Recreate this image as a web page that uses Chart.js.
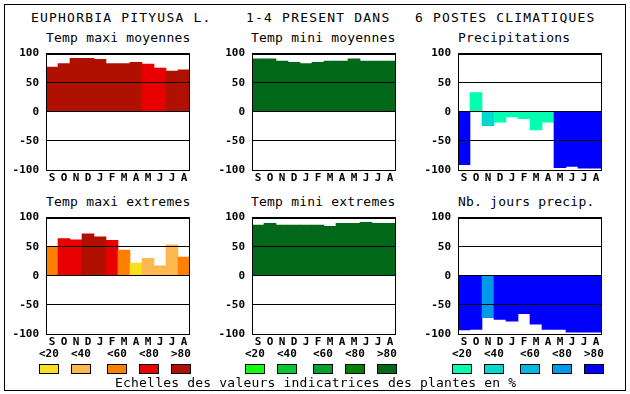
<!DOCTYPE html>
<html>
<head>
<meta charset="utf-8">
<script src="https://cdn.jsdelivr.net/npm/chart.js@4.4.1/dist/chart.umd.min.js"></script>
<style>
body{margin:0;background:#fff;width:630px;height:394px;position:relative;overflow:hidden;font-family:"DejaVu Sans Mono",monospace;color:#000}
#cadre{position:absolute;left:4px;top:4px;width:620px;height:385px;border:1px solid #000}
.t{position:absolute;white-space:pre;line-height:1}
.titre{font-size:13px;letter-spacing:1.2px;top:11px}
.sous{font-size:13px;letter-spacing:0.2px}
.leg{font-size:11px;font-weight:bold;top:348px}
.box{position:absolute;top:364px;width:18px;height:8px;border:1px solid #000}
canvas{position:absolute}
</style>
</head>
<body>
<div id="cadre"></div>
<div class="t titre" style="left:31px">EUPHORBIA PITYUSA L.</div>
<div class="t titre" style="left:246px">1-4 PRESENT DANS</div>
<div class="t titre" style="left:415px">6 POSTES CLIMATIQUES</div>

<div class="t sous" style="left:46px;top:31px">Temp maxi moyennes</div>
<div class="t sous" style="left:251px;top:31px">Temp mini moyennes</div>
<div class="t sous" style="left:458px;top:31px">Precipitations</div>
<div class="t sous" style="left:46px;top:195px">Temp maxi extremes</div>
<div class="t sous" style="left:251px;top:195px">Temp mini extremes</div>
<div class="t sous" style="left:458px;top:195px">Nb. jours precip.</div>

<canvas id="c1" width="200" height="150" style="left:0px;top:40px"></canvas>
<canvas id="c2" width="200" height="150" style="left:206px;top:40px"></canvas>
<canvas id="c3" width="200" height="150" style="left:412px;top:40px"></canvas>
<canvas id="c4" width="200" height="150" style="left:0px;top:204px"></canvas>
<canvas id="c5" width="200" height="150" style="left:206px;top:204px"></canvas>
<canvas id="c6" width="200" height="150" style="left:412px;top:204px"></canvas>

<div id="legende"></div>
<div class="t sous" style="left:115px;top:376px">Echelles des valeurs indicatrices des plantes en %</div>

<script>
var mois = ['S','O','N','D','J','F','M','A','M','J','J','A'];
var classes = ['<20','<40','<60','<80','>80'];

var rouges = ['#F8E020','#FFB850','#FF8000','#E80000','#B01000'];
var verts  = ['#10FF10','#00C830','#00A030','#008000','#006818'];
var bleus  = ['#00FFB0','#00D8D0','#00B8E0','#0098E8','#0000FF'];

var tmaxMoy = [77,83,92,92,90,83,83,85,82,75,70,72];
var tmaxMoyCl = [4,4,4,4,4,4,4,4,3,3,4,4];
var tminMoy = [91,91,87,85,83,85,87,87,91,87,87,87];
var tminMoyCl = [4,4,4,4,4,4,4,4,4,4,4,4];
var precip = [-91,33,-24,-18,-9,-12,-31,-18,-96,-94,-97,-97];
var precipCl = [4,0,1,0,0,0,0,0,4,4,4,4];
var tmaxExt = [49,64,62,72,67,61,44,22,30,17,53,32];
var tmaxExtCl = [2,3,3,4,4,3,2,0,1,1,1,2];
var tminExt = [87,90,87,87,87,87,85,90,90,92,90,90];
var tminExtCl = [4,4,4,4,4,4,4,4,4,4,4,4];
var nbJours = [-93,-92,-72,-75,-78,-65,-83,-92,-92,-97,-97,-97];
var nbJoursCl = [4,4,3,4,4,4,4,4,4,4,4,4];

var police = {family:'"DejaVu Sans Mono", monospace', size:11, weight:'bold'};

// cadre noir autour de la zone de trace
var cadre = {
  id:'cadre',
  afterDraw: function(chart){
    var a = chart.chartArea, c = chart.ctx;
    c.save();
    c.strokeStyle = '#000';
    c.lineWidth = 1;
    c.strokeRect(Math.round(a.left)+0.5, Math.round(a.top)+0.5, Math.round(a.right-a.left)-1, Math.round(a.bottom-a.top));
    c.restore();
  }
};

function graphe(id, valeurs, cl, palette){
  var couleurs = cl.map(function(k){ return palette[k]; });
  new Chart(document.getElementById(id), {
    type:'bar',
    data:{
      labels: mois,
      datasets:[{data: valeurs, backgroundColor: couleurs, borderWidth:0, barPercentage:1, categoryPercentage:1}]
    },
    options:{
      responsive:false, animation:false, devicePixelRatio:1,
      layout:{padding:{top:10, right:10, left:0, bottom:0}},
      plugins:{legend:{display:false}, tooltip:{enabled:false}},
      scales:{
        x:{
          grid:{display:false, drawTicks:false}, border:{display:false},
          ticks:{font:police, color:'#000', padding:2, maxRotation:0, autoSkip:false},
          afterFit:function(s){ s.height = 20; }
        },
        y:{
          min:-100, max:100, z:1,
          grid:{color:'#000', drawTicks:false, z:1}, border:{display:false},
          ticks:{stepSize:50, font:police, color:'#000', padding:7},
          afterFit:function(s){ s.width = 46; }
        }
      }
    },
    plugins:[cadre]
  });
}

graphe('c1', tmaxMoy, tmaxMoyCl, rouges);
graphe('c2', tminMoy, tminMoyCl, verts);
graphe('c3', precip, precipCl, bleus);
graphe('c4', tmaxExt, tmaxExtCl, rouges);
graphe('c5', tminExt, tminExtCl, verts);
graphe('c6', nbJours, nbJoursCl, bleus);

// legende des echelles
var debuts = [39, 245, 452];
var decal = [0, 32, 68, 100, 132];
var palettes = [rouges, verts, bleus];
var leg = document.getElementById('legende');
palettes.forEach(function(p, g){
  classes.forEach(function(txt, i){
    var x = debuts[g] + decal[i];
    var l = document.createElement('div');
    l.className = 't leg';
    l.style.left = x + 'px';
    l.textContent = txt;
    leg.appendChild(l);
    var b = document.createElement('div');
    b.className = 'box';
    b.style.left = x + 'px';
    b.style.background = p[i];
    leg.appendChild(b);
  });
});
</script>
</body>
</html>
